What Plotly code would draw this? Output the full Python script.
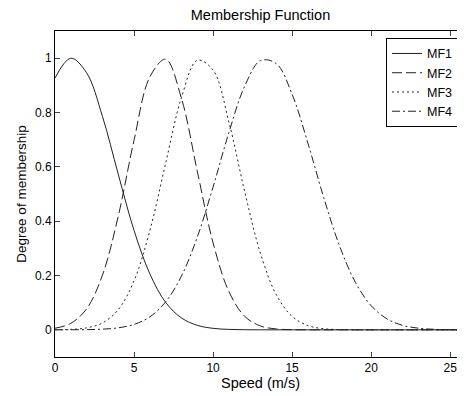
import plotly.graph_objects as go

speed = list(range(0, 27))
mf1 = [0.927, 1.000, 0.946, 0.786, 0.573, 0.366, 0.206, 0.101, 0.0437, 0.0166, 0.0055,
       0.0016, 0.0004, 0.0001, 0, 0, 0, 0, 0, 0, 0, 0, 0, 0, 0, 0, 0]
mf2 = [0.0059, 0.0238, 0.0773, 0.201, 0.418, 0.698, 0.931, 0.996, 0.852, 0.584, 0.320,
       0.141, 0.0497, 0.0140, 0.0032, 0.0006, 0.0001, 0, 0, 0, 0, 0, 0, 0, 0, 0, 0]
mf3 = [0.0003, 0.0017, 0.0072, 0.0253, 0.0742, 0.1805, 0.365, 0.613, 0.855, 0.992, 0.956,
       0.765, 0.509, 0.281, 0.129, 0.0494, 0.0157, 0.0041, 0.0009, 0.0002, 0, 0, 0, 0, 0, 0, 0]
mf4 = [0.00005, 0.0002, 0.0007, 0.0025, 0.0074, 0.0198, 0.0478, 0.1027, 0.198, 0.341, 0.526,
       0.726, 0.897, 0.991, 0.980, 0.867, 0.687, 0.487, 0.309, 0.175, 0.0889, 0.0404, 0.0164,
       0.006, 0.0019, 0.0006, 0.0001]
names = ["MF1", "MF2", "MF3", "MF4"]
x_ticks = [0, 5, 10, 15, 20, 25]
y_ticks = [0, 0.2, 0.4, 0.6, 0.8, 1]
y_tick_labels = ["0", "0.2", "0.4", "0.6", "0.8", "1"]

dashes = ["solid", "10px,4px", "2px,3px", "8px,3px,2px,3px"]
series = [mf1, mf2, mf3, mf4]

fig = go.Figure()
for nm, ys, d in zip(names, series, dashes):
    fig.add_trace(go.Scatter(x=speed, y=ys, mode="lines", name=nm,
                             line=dict(color="#222222", width=1, dash=d, shape="spline")))

font = "Liberation Sans, Arial, sans-serif"
H = 388
fig.update_layout(
    width=458, height=H,
    margin=dict(l=47, r=0, t=23, b=39, autoexpand=False),
    paper_bgcolor="white", plot_bgcolor="white",
    font=dict(family=font, size=12, color="black"),
    title=dict(text="Membership Function", x=0.5, xref="paper", xanchor="center",
               y=1 - 7 / H, yanchor="middle", font=dict(size=14.5)),
    legend=dict(x=0.983, y=0.979, xanchor="right", yanchor="top",
                bgcolor="white", bordercolor="black", borderwidth=1,
                font=dict(size=12.5), tracegroupgap=0, itemwidth=30),
    showlegend=True,
)
fig.update_xaxes(range=[0, 26], tickvals=x_ticks, ticks="inside", ticklen=5,
                 showline=True, linecolor="black", linewidth=1, mirror="ticks",
                 showgrid=False, zeroline=False, tickfont=dict(size=12), automargin=False,
                 title=dict(text="Speed (m/s)", font=dict(size=14.5), standoff=3))
fig.update_yaxes(range=[-0.1, 1.1], tickvals=y_ticks, ticktext=y_tick_labels,
                 ticks="inside", ticklen=5,
                 showline=True, linecolor="black", linewidth=1, mirror="ticks",
                 showgrid=False, zeroline=False, tickfont=dict(size=12), automargin=False,
                 title=dict(text="Degree of membership", font=dict(size=13.5), standoff=5))

fig.write_html("out.html")
